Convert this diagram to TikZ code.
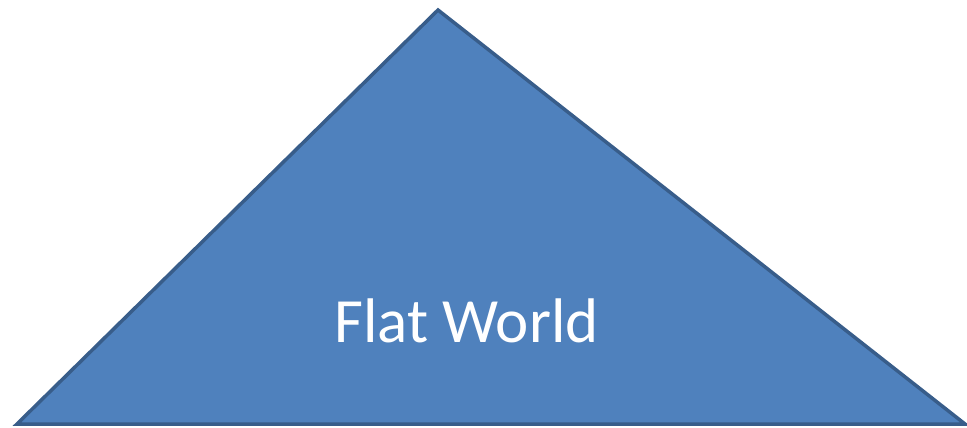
\documentclass[tikz,border=0pt]{standalone}
\usepackage{fontspec}
\setmainfont{Carlito}
\definecolor{fillblue}{HTML}{4F81BD}
\definecolor{edgeblue}{HTML}{385D8A}
\begin{document}
\begin{tikzpicture}[x=1pt,y=-1pt,
  tri/.style={fill=fillblue,draw=edgeblue,line width=3.5pt,line join=miter},
  lbl/.style={text=white,font=\fontsize{63}{75}\selectfont,inner sep=0pt,anchor=base}]
\useasboundingbox (0,0) rectangle (967,428);
\coordinate (L) at (17,424);
\coordinate (T) at (438,10);
\coordinate (R) at (965,424);
\draw[tri] (L) -- (T) -- (R) -- cycle;
\node[lbl] (t) at (466.5,342) {Flat World};
\end{tikzpicture}
\end{document}
